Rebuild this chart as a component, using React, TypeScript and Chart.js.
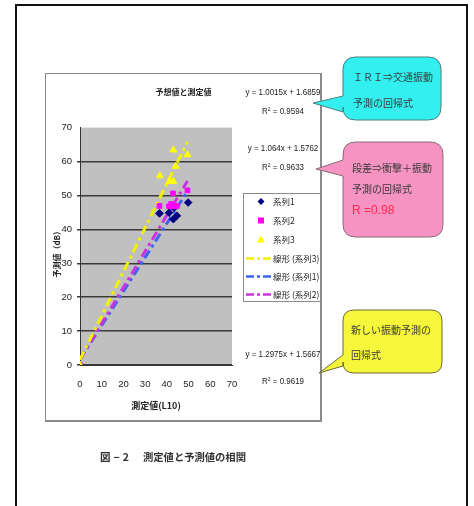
import React, { useEffect, useRef } from "react";
import { Chart, registerables } from "chart.js";

Chart.register(...registerables);

// Measured (L10) vs. predicted levels for the three prediction methods
const series1X = [0, 36.6, 41, 43.3, 43, 44.6, 49.8];
const series1Y = [0, 44.7, 44.9, 46.4, 43, 44, 47.9];
const series2X = [0, 36.6, 41, 42, 42.8, 43.2, 44.6, 49.5];
const series2Y = [0, 46.9, 46.8, 47.5, 50.6, 46.8, 46.9, 51.5];
const series3X = [0, 36.8, 41.1, 43, 43, 44.1, 49.5];
const series3Y = [0, 55.8, 54.1, 54.1, 63.4, 58.6, 62];

const seriesNames = ["系列1", "系列2", "系列3"];
const trendNames = ["線形 (系列3)", "線形 (系列1)", "線形 (系列2)"];

// Linear trend lines as printed next to the plot
const trendSlopes = [1.0015, 1.064, 1.2975];
const trendIntercepts = [1.6859, 1.5762, 1.5667];
const trendR2 = [0.9594, 0.9633, 0.9619];

const axisTicks = [0, 10, 20, 30, 40, 50, 60, 70];

const CJK = '"Noto Sans CJK JP", "Noto Sans CJK SC", sans-serif';
const SANS = '"Liberation Sans", Arial, sans-serif';

const pointColors = ["#000080", "#ff00ff", "#ffff00"];
const lineColors = ["#3d63f0", "#cc33dd", "#f2f200"];
const dashPattern = [9, 4, 3, 4];

function toPoints(xs: number[], ys: number[]) {
  return xs.map((x, i) => ({ x, y: ys[i] }));
}

function trendPoints(i: number, xs: number[]) {
  const lo = Math.min(...xs);
  const hi = Math.max(...xs);
  return [
    { x: lo, y: trendSlopes[i] * lo + trendIntercepts[i] },
    { x: hi, y: trendSlopes[i] * hi + trendIntercepts[i] },
  ];
}

const plotBackground = {
  id: "plotBackground",
  beforeDraw(chart: any) {
    const { ctx, chartArea } = chart;
    if (!chartArea) return;
    ctx.save();
    ctx.fillStyle = "#c0c0c0";
    ctx.fillRect(chartArea.left, chartArea.top, chartArea.right - chartArea.left, chartArea.bottom - chartArea.top);
    ctx.restore();
  },
};

function ScatterChart() {
  const ref = useRef<HTMLCanvasElement | null>(null);
  useEffect(() => {
    if (!ref.current) return;
    const chart = new Chart(ref.current, {
      type: "scatter",
      data: {
        datasets: [
          {
            label: seriesNames[2],
            data: toPoints(series3X, series3Y),
            pointStyle: "triangle",
            pointRadius: 4,
            backgroundColor: pointColors[2],
            borderColor: pointColors[2],
            borderWidth: 1,
          },
          {
            label: seriesNames[1],
            data: toPoints(series2X, series2Y),
            pointStyle: "rect",
            pointRadius: 3.3,
            backgroundColor: pointColors[1],
            borderColor: pointColors[1],
            borderWidth: 1,
          },
          {
            label: seriesNames[0],
            data: toPoints(series1X, series1Y),
            pointStyle: "rectRot",
            pointRadius: 3.8,
            backgroundColor: pointColors[0],
            borderColor: pointColors[0],
            borderWidth: 1,
          },
          {
            label: trendNames[0],
            data: trendPoints(2, series3X),
            showLine: true,
            pointRadius: 0,
            borderColor: lineColors[2],
            borderWidth: 3,
            borderDash: dashPattern,
          },
          {
            label: trendNames[2],
            data: trendPoints(1, series2X),
            showLine: true,
            pointRadius: 0,
            borderColor: lineColors[1],
            borderWidth: 3,
            borderDash: dashPattern,
          },
          {
            label: trendNames[1],
            data: trendPoints(0, series1X),
            showLine: true,
            pointRadius: 0,
            borderColor: lineColors[0],
            borderWidth: 3,
            borderDash: dashPattern,
          },
        ],
      },
      options: {
        responsive: false,
        animation: false,
        layout: { padding: 0 },
        plugins: {
          legend: { display: false },
          tooltip: { enabled: false },
          title: {
            display: true,
            text: "予想値と測定値",
            color: "#222",
            font: { family: CJK, size: 8, weight: "bold" },
            padding: { top: 14, bottom: 31 },
          },
        },
        scales: {
          x: {
            type: "linear",
            min: 0,
            max: 70,
            afterFit: (s: any) => {
              s.height = 57;
            },
            afterBuildTicks: (s: any) => {
              s.ticks = axisTicks.map((v) => ({ value: v }));
            },
            ticks: { padding: 14, color: "#222", font: { family: SANS, size: 9.5 } },
            grid: { display: false, drawTicks: false },
            border: { color: "#333", width: 1 },
            title: {
              display: true,
              text: "測定値(L10)",
              color: "#222",
              font: { family: CJK, size: 9, weight: "bold" },
              padding: { top: 0, bottom: 11 },
            },
          },
          y: {
            type: "linear",
            min: 0,
            max: 70,
            afterFit: (s: any) => {
              s.width = 35;
            },
            afterBuildTicks: (s: any) => {
              s.ticks = axisTicks.map((v) => ({ value: v }));
            },
            ticks: { padding: 5, color: "#222", font: { family: SANS, size: 9.5 } },
            grid: {
              color: (c: any) => (c.tick && c.tick.value === 70 ? "rgba(0,0,0,0)" : "#3a3a3a"),
              lineWidth: 1.5,
              drawTicks: true,
              tickLength: 3,
            },
            border: { color: "#333", width: 1 },
            title: {
              display: true,
              text: "予測値（dB）\u3000\u3000",
              color: "#222",
              font: { family: CJK, size: 8, weight: "bold" },
              padding: { top: 7, bottom: 0 },
            },
          },
          // empty band on the right that holds the equations and legend
          side: {
            type: "linear",
            position: "right",
            display: true,
            afterFit: (s: any) => {
              s.width = 90;
            },
            ticks: { display: false },
            grid: { display: false, drawTicks: false },
            border: { display: false },
          },
        },
      },
      plugins: [plotBackground],
    } as any);
    return () => chart.destroy();
  }, []);
  return <canvas ref={ref} width={277} height={349} style={{ display: "block" }} />;
}

function LegendRow({ kind, color, label, top }: { kind: string; color: string; label: string; top: number }) {
  let mark: React.ReactNode = null;
  if (kind === "diamond") mark = <polygon points="17,1 20.5,4.5 17,8 13.5,4.5" fill={color} />;
  if (kind === "square") mark = <rect x={14} y={1.5} width={6} height={6} fill={color} />;
  if (kind === "triangle") mark = <polygon points="17,0.5 21,7.5 13,7.5" fill={color} />;
  if (kind === "line")
    mark = <line x1={2} y1={4.5} x2={27} y2={4.5} stroke={color} strokeWidth={2.5} strokeDasharray="8 3 3 3" />;
  return (
    <div style={{ position: "absolute", left: 0, top: top - 4.5, width: 78, height: 9 }}>
      <svg width={30} height={9} style={{ position: "absolute", left: 0, top: 0 }}>
        {mark}
      </svg>
      <span
        style={{
          position: "absolute",
          left: 29,
          top: -2,
          fontFamily: CJK,
          fontSize: 8.5,
          lineHeight: "13px",
          whiteSpace: "nowrap",
          color: "#222",
        }}
      >
        {label}
      </span>
    </div>
  );
}

function calloutPath(x: number, y: number, w: number, h: number, r: number, y1: number, y2: number, tx: number, ty: number) {
  return [
    `M ${x + r} ${y}`,
    `H ${x + w - r}`,
    `Q ${x + w} ${y} ${x + w} ${y + r}`,
    `V ${y + h - r}`,
    `Q ${x + w} ${y + h} ${x + w - r} ${y + h}`,
    `H ${x + r}`,
    `Q ${x} ${y + h} ${x} ${y + h - r}`,
    `V ${y2}`,
    `L ${tx} ${ty}`,
    `L ${x} ${y1}`,
    `V ${y + r}`,
    `Q ${x} ${y} ${x + r} ${y}`,
    "Z",
  ].join(" ");
}

const textLine = (text: string, left: number, cy: number, extra: React.CSSProperties = {}) => (
  <div
    style={{
      position: "absolute",
      left,
      top: cy - 8,
      height: 16,
      lineHeight: "16px",
      fontFamily: CJK,
      fontSize: 10,
      color: "#3a3a3a",
      whiteSpace: "nowrap",
      ...extra,
    }}
  >
    {text}
  </div>
);

const eqLine = (text: React.ReactNode, cy: number) => (
  <div
    style={{
      position: "absolute",
      left: 233,
      width: 100,
      top: cy - 7,
      height: 14,
      lineHeight: "14px",
      textAlign: "center",
      fontFamily: SANS,
      fontSize: 9.5,
      color: "#222",
      whiteSpace: "nowrap",
      transform: "scaleX(0.84)",
      transformOrigin: "50% 50%",
    }}
  >
    {text}
  </div>
);

export default function App() {
  const eq = (i: number) => `y = ${trendSlopes[i]}x + ${trendIntercepts[i]}`;
  const r2 = (i: number) => (
    <>
      R<sup style={{ fontSize: 6, verticalAlign: "top", lineHeight: "10px" }}>2</sup> = {trendR2[i]}
    </>
  );
  return (
    <div style={{ position: "absolute", left: 0, top: 0, width: 474, height: 506, overflow: "hidden", background: "#fff" }}>
      {/* page frame */}
      <div
        style={{
          position: "absolute",
          left: 15,
          top: 4,
          width: 449,
          height: 520,
          border: "2px solid #111",
          borderBottom: "none",
        }}
      />
      {/* chart object */}
      <div style={{ position: "absolute", left: 45, top: 73, width: 277, height: 349 }}>
        <ScatterChart />
      </div>
      <div
        style={{
          position: "absolute",
          left: 45,
          top: 73,
          width: 277,
          height: 349,
          boxSizing: "border-box",
          border: "1px solid #8a8a8a",
          borderRight: "2px solid #8a8a8a",
          borderBottom: "2px solid #8a8a8a",
          pointerEvents: "none",
        }}
      />
      {/* regression equations */}
      {eqLine(eq(0), 92)}
      {eqLine(r2(0), 111)}
      {eqLine(eq(1), 148)}
      {eqLine(r2(1), 167)}
      {eqLine(eq(2), 354)}
      {eqLine(r2(2), 381)}
      {/* legend */}
      <div
        style={{
          position: "absolute",
          left: 243,
          top: 193,
          width: 78,
          height: 109,
          boxSizing: "border-box",
          border: "1px solid #8a8a8a",
          background: "#fff",
        }}
      >
        <LegendRow kind="diamond" color={pointColors[0]} label={seriesNames[0]} top={7} />
        <LegendRow kind="square" color={pointColors[1]} label={seriesNames[1]} top={26} />
        <LegendRow kind="triangle" color={pointColors[2]} label={seriesNames[2]} top={45} />
        <LegendRow kind="line" color={lineColors[2]} label={trendNames[0]} top={64} />
        <LegendRow kind="line" color={lineColors[0]} label={trendNames[1]} top={82} />
        <LegendRow kind="line" color={lineColors[1]} label={trendNames[2]} top={100} />
      </div>
      {/* callouts */}
      <svg width={474} height={506} style={{ position: "absolute", left: 0, top: 0, pointerEvents: "none" }}>
        <path d={calloutPath(343, 57, 98, 63, 13, 96, 112, 313, 103)} fill="#33f0f0" stroke="#4a7f7f" strokeWidth={1} />
        <path d={calloutPath(343, 142, 100, 95, 13, 160, 176, 316, 169)} fill="#f593c3" stroke="#8a6a78" strokeWidth={1} />
        <path d={calloutPath(343, 310, 99, 63, 11, 355, 366, 319, 373)} fill="#f6f63a" stroke="#6a6a3a" strokeWidth={1} />
      </svg>
      {textLine("ＩＲＩ⇒交通振動", 353, 77)}
      {textLine("予測の回帰式", 353, 103)}
      {textLine("段差⇒衝撃＋振動", 352, 168)}
      {textLine("予測の回帰式", 352, 189)}
      {textLine("R =0.98", 352, 210, { fontFamily: SANS, fontSize: 12, color: "#ff2b4a" })}
      {textLine("新しい振動予測の", 351, 330)}
      {textLine("回帰式", 351, 355)}
      {/* figure caption */}
      {textLine("図−2", 100, 457, { fontSize: 10.5, fontWeight: "bold", color: "#333", letterSpacing: 3 })}
      {textLine("測定値と予測値の相関", 143, 457, { fontSize: 10.3, fontWeight: "bold", color: "#333" })}
    </div>
  );
}
